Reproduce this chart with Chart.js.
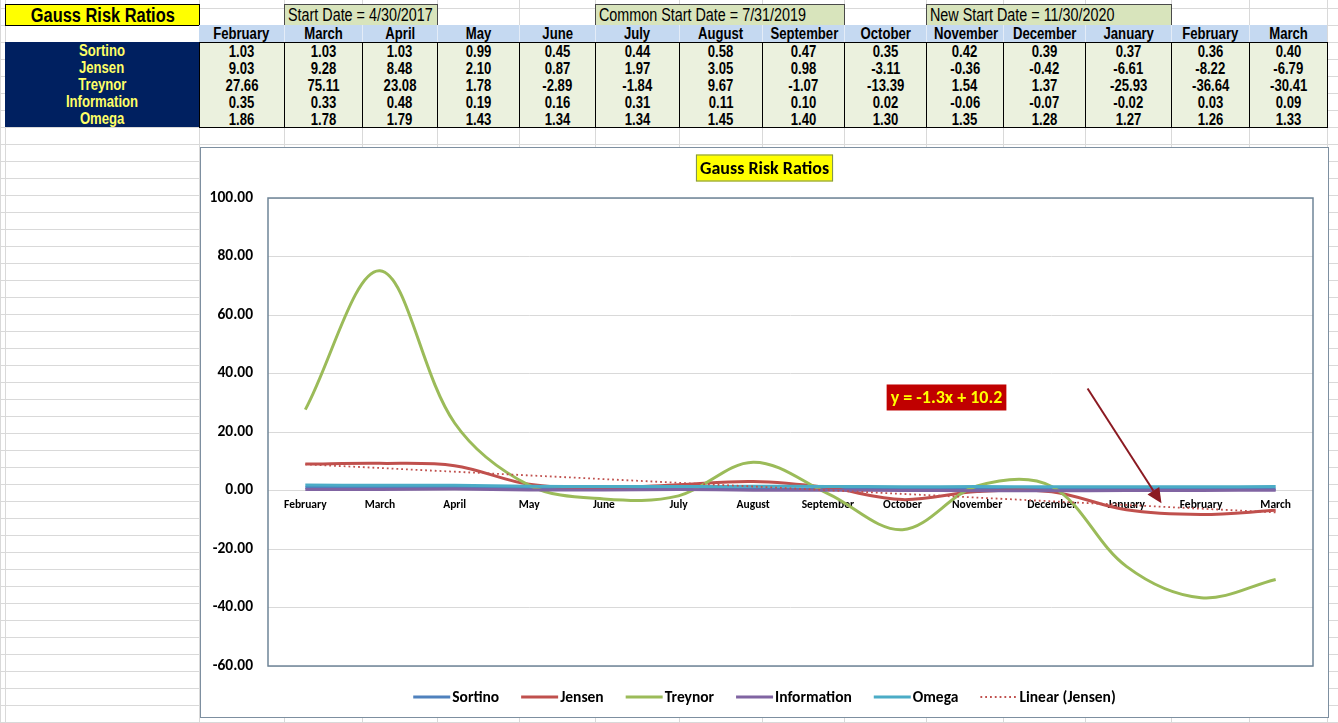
<!DOCTYPE html>
<html>
<head>
<meta charset="utf-8">
<script src="https://cdn.jsdelivr.net/npm/chart.js@4.4.1/dist/chart.umd.min.js"></script>
<style>
html,body{margin:0;padding:0;background:#fff;width:1338px;height:723px;overflow:hidden;}
#sheet{position:absolute;left:0;top:0;width:1338px;height:723px;
  background-image:linear-gradient(to bottom,#d9d9d9 1px,transparent 1px);
  background-size:100% 17px;background-position:0 8px;}
.vl{position:absolute;top:0;width:1px;height:723px;background:#d9d9d9;}
.cell{position:absolute;box-sizing:border-box;font-family:"Liberation Sans",Arial,sans-serif;
  font-weight:bold;font-size:16px;line-height:17px;text-align:center;white-space:nowrap;overflow:hidden;color:#000;}
.cell span{display:inline-block;transform:scaleX(0.82);transform-origin:50% 50%;}
.cell.left span{transform-origin:0 50%;}
#chartBox{position:absolute;left:200px;top:147px;width:1129px;height:571px;box-sizing:border-box;
  border:1px solid #7d8fa0;background:#fff;}
#chartWrap{position:absolute;left:0;top:0;width:1127px;height:569px;}
</style>
</head>
<body>
<div id="sheet"></div>
<div id="table"></div>
<div id="chartBox"><div id="chartWrap"><canvas id="c"></canvas></div></div>
<script>
// ---------- data ----------
const tableTitle = "Gauss Risk Ratios";
const chartTitle = "Gauss Risk Ratios";
const months = ["February","March","April","May","June","July","August","September","October","November","December","January","February","March"];
const seriesNames = ["Sortino","Jensen","Treynor","Information","Omega"];
const sortino     = [1.03, 1.03, 1.03, 0.99, 0.45, 0.44, 0.58, 0.47, 0.35, 0.42, 0.39, 0.37, 0.36, 0.40];
const jensen      = [9.03, 9.28, 8.48, 2.10, 0.87, 1.97, 3.05, 0.98, -3.11, -0.36, -0.42, -6.61, -8.22, -6.79];
const treynor     = [27.66, 75.11, 23.08, 1.78, -2.89, -1.84, 9.67, -1.07, -13.39, 1.54, 1.37, -25.93, -36.64, -30.41];
const information = [0.35, 0.33, 0.48, 0.19, 0.16, 0.31, 0.11, 0.10, 0.02, -0.06, -0.07, -0.02, 0.03, 0.09];
const omega       = [1.86, 1.78, 1.79, 1.43, 1.34, 1.34, 1.45, 1.40, 1.30, 1.35, 1.28, 1.27, 1.26, 1.33];
const trendName = "Linear (Jensen)";
const trendEnds = [8.95, -7.48];           // trend line value at first and last month
const trendLabel = "y = -1.3x + 10.2";
const startDateLabels = ["Start Date = 4/30/2017", "Common Start Date = 7/31/2019", "New Start Date = 11/30/2020"];
const yMin = -60, yMax = 100, yStep = 20;

// ---------- spreadsheet layout ----------
const colEdges = [5,199,284,362,437,519,595,679,762,844,926,1003,1085,1171,1249,1327];
const startBoxCols = [[2,4],[6,9],[10,13]]; // edge index ranges
const sheet = document.getElementById('sheet');
[0,...colEdges,1338].forEach(x=>{const d=document.createElement('div');d.className='vl';d.style.left=x+'px';sheet.appendChild(d);});

const tbl = document.getElementById('table');
function cell(l,t,w,h,css,txt,cls){const d=document.createElement('div');d.className='cell'+(cls?' '+cls:'');
  Object.assign(d.style,{left:l+'px',top:t+'px',width:w+'px',height:h+'px'},css||{});
  if(txt!==undefined){const s=document.createElement('span');s.textContent=txt;d.appendChild(s);}
  tbl.appendChild(d);return d;}

cell(5,4,195,22,{background:'#ffff00',border:'1px solid #000',fontSize:'20px',lineHeight:'20px'},tableTitle);
startDateLabels.forEach((s,i)=>{const [a,b]=startBoxCols[i];
  cell(colEdges[a],4,colEdges[b]-colEdges[a]+1,22,{background:'#d8e4bc',border:'1px solid #4a4a4a',fontWeight:'normal',fontSize:'17.5px',textAlign:'left',paddingLeft:'3px',lineHeight:'20px'},s,'left');});
// header row
months.forEach((m,i)=>{const l=colEdges[i+1],w=colEdges[i+2]-l;
  cell(l,25,w,17,{background:'#c5d9f1',borderLeft:i? '1px solid #e4ecf7':'none'},m);});
// label block
cell(5,42,194,85,{background:'#002060'});
seriesNames.forEach((n,r)=>cell(5,42+r*17,194,17,{color:'#ffff66'},n));
const allSeries=[sortino,jensen,treynor,information,omega];
months.forEach((m,i)=>{const l=colEdges[i+1],w=colEdges[i+2]-l+1;
  const c=cell(l,42,w,86,{background:'#ebf1de',border:'1px solid #000'});
  allSeries.forEach((s,r)=>{const v=document.createElement('div');v.style.height='17px';
    const sp=document.createElement('span');sp.textContent=s[i].toFixed(2);v.appendChild(sp);c.appendChild(v);});
});

// ---------- chart ----------
const FONT = 'Carlito, Lato, sans-serif';
const colors = ['#4f81bd','#c0504d','#9bbb59','#8064a2','#4bacc6'];
const trendData = months.map((_,i)=> i===0 ? trendEnds[0] : (i===months.length-1 ? trendEnds[1] : null));

const datasets = allSeries.map((s,i)=>({label:seriesNames[i],data:s,borderColor:colors[i],backgroundColor:colors[i],
  borderWidth:3,pointRadius:0,pointHoverRadius:0,tension:0.35,fill:false,order:6-i}));
datasets.push({label:trendName,data:trendData,borderColor:'#c0504d',backgroundColor:'#c0504d',borderWidth:1.8,
  borderDash:[1.8,3],borderCapStyle:'butt',pointRadius:0,pointHoverRadius:0,tension:0,spanGaps:true,fill:false,order:0});

const decor = {
  id:'decor',
  beforeDatasetsDraw(chart){
    const {ctx,chartArea:a}=chart;ctx.save();ctx.strokeStyle='#6f8598';ctx.lineWidth=1.5;
    ctx.strokeRect(a.left,a.top,a.right-a.left,a.bottom-a.top);ctx.restore();
  },
  afterDraw(chart){
    const {ctx,width,scales:{x,y}}=chart;ctx.save();
    // title box
    ctx.font='bold 18px '+FONT;ctx.textBaseline='middle';ctx.textAlign='center';
    const tw=ctx.measureText(chartTitle).width, bw=tw+8, bh=27, cx=width/2, cy=20;
    ctx.fillStyle='#ffff00';ctx.fillRect(cx-bw/2,cy-bh/2,bw,bh);
    ctx.strokeStyle='#7a8f5a';ctx.lineWidth=1;ctx.strokeRect(cx-bw/2+0.5,cy-bh/2+0.5,bw-1,bh-1);
    ctx.fillStyle='#000';ctx.fillText(chartTitle,cx,cy+1);
    // trend equation label
    ctx.font='bold 18px '+FONT;
    const ex=x.getPixelForValue(8.59), ey=y.getPixelForValue(31.8);
    const ew=ctx.measureText(trendLabel).width+8, eh=26;
    ctx.fillStyle='#c00000';ctx.fillRect(ex-ew/2,ey-eh/2,ew,eh);
    ctx.fillStyle='#ffff00';ctx.fillText(trendLabel,ex,ey+1);
    // arrow
    const x1=x.getPixelForValue(10.48), y1=y.getPixelForValue(34.9);
    const x2=x.getPixelForValue(11.47), y2=y.getPixelForValue(-4.4);
    const ang=Math.atan2(y2-y1,x2-x1), hl=15, hw=7;
    ctx.strokeStyle='#8b1a22';ctx.fillStyle='#8b1a22';ctx.lineWidth=2;
    ctx.beginPath();ctx.moveTo(x1,y1);ctx.lineTo(x2-hl*Math.cos(ang),y2-hl*Math.sin(ang));ctx.stroke();
    ctx.beginPath();ctx.moveTo(x2,y2);
    ctx.lineTo(x2-hl*Math.cos(ang)+hw*Math.sin(ang),y2-hl*Math.sin(ang)-hw*Math.cos(ang));
    ctx.lineTo(x2-hl*Math.cos(ang)-hw*Math.sin(ang),y2-hl*Math.sin(ang)+hw*Math.cos(ang));
    ctx.closePath();ctx.fill();
    // legend
    ctx.font='bold 15.5px '+FONT;ctx.textAlign='left';
    const ds=chart.data.datasets, lineLen=37, gapT=2, gapI=22, ly=549;
    const widths=ds.map(d=>lineLen+gapT+ctx.measureText(d.label).width);
    const total=widths.reduce((p,c)=>p+c,0)+gapI*(ds.length-1);
    let lx=width/2-total/2;
    ds.forEach((d,i)=>{
      ctx.beginPath();ctx.strokeStyle=d.borderColor;ctx.lineWidth=d.borderDash?1.8:3;
      ctx.setLineDash(d.borderDash||[]);ctx.moveTo(lx,ly);ctx.lineTo(lx+lineLen,ly);ctx.stroke();ctx.setLineDash([]);
      ctx.fillStyle='#000';ctx.fillText(d.label,lx+lineLen+gapT,ly+1);
      lx+=widths[i]+gapI;
    });
    ctx.restore();
  }
};

new Chart(document.getElementById('c'),{
  type:'line',
  data:{labels:months,datasets},
  options:{
    responsive:true,maintainAspectRatio:false,animation:false,
    layout:{padding:{top:50,right:15,bottom:51,left:0}},
    plugins:{legend:{display:false},title:{display:false},tooltip:{enabled:false}},
    scales:{
      x:{type:'category',offset:true,position:{y:0},
        grid:{display:false,drawTicks:false},border:{display:false},
        ticks:{color:'#000',font:{family:FONT,size:11.5,weight:'bold'},maxRotation:0,autoSkip:false,padding:8}},
      y:{min:yMin,max:yMax,
        ticks:{stepSize:yStep,callback:v=>Number(v).toFixed(2),color:'#000',font:{family:FONT,size:15.5,weight:'bold'},padding:15},
        grid:{color:'#d9d9d9',drawTicks:false,lineWidth:1},border:{display:false},
        afterFit(s){s.width=67;}}
    }
  },
  plugins:[decor]
});
</script>
</body>
</html>
